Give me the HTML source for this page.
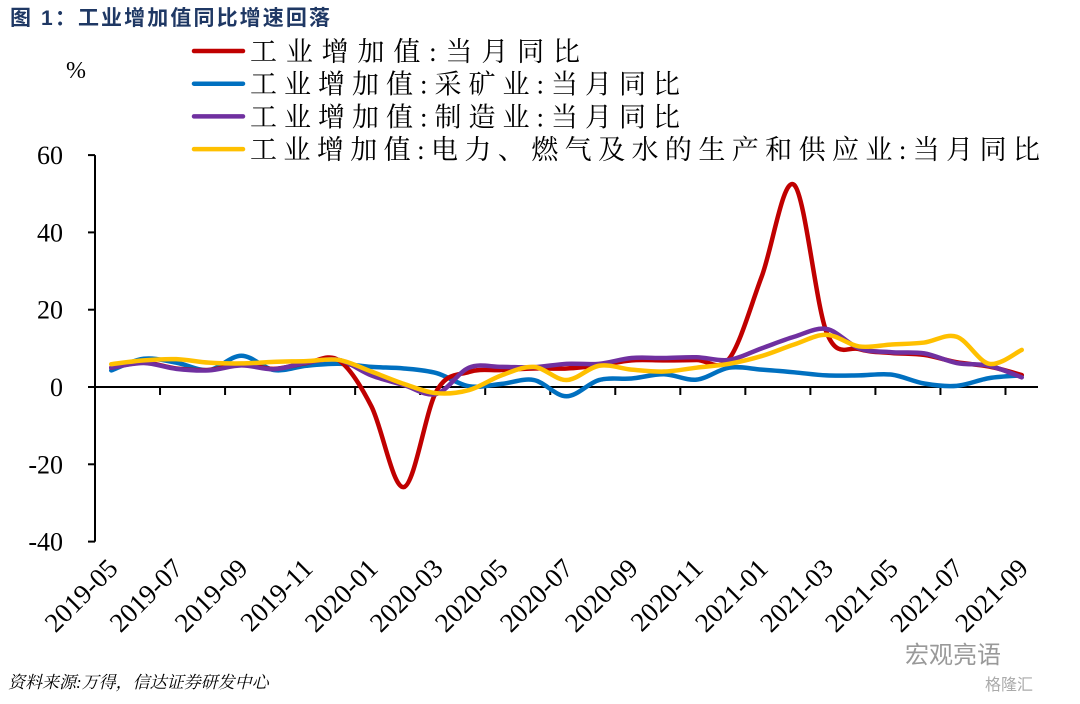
<!DOCTYPE html>
<html><head><meta charset="utf-8"><style>
body{margin:0;background:#fff;width:1080px;height:699px;overflow:hidden}
</style></head><body>
<svg id="chart" width="1080" height="699" viewBox="0 0 1080 699" xmlns="http://www.w3.org/2000/svg" font-family="'Liberation Serif','Noto Serif CJK SC',serif">
<text x="10" y="25" font-size="21" font-weight="bold" fill="#1f3864" textLength="320" lengthAdjust="spacing" font-family="'Liberation Sans','Noto Sans CJK SC',sans-serif">图 1：工业增加值同比增速回落</text>
<text x="66" y="78" font-size="24">%</text>
<g id="legend"></g>
<g id="axes"></g>
<g id="series"></g>
<text x="8" y="688" font-size="17" font-style="italic">资料来源:万得，信达证券研发中心</text>
<text x="905" y="663" font-size="24" fill="#999" font-family="'Liberation Sans','Noto Sans CJK SC',sans-serif">宏观亮语</text>
<text x="985" y="690" font-size="16" fill="#aaa" font-family="'Liberation Sans','Noto Sans CJK SC',sans-serif">格隆汇</text>
</svg>
<script>
const months=["2019-05","2019-06","2019-07","2019-08","2019-09","2019-10","2019-11","2019-12","2020-01","2020-02","2020-03","2020-04","2020-05","2020-06","2020-07","2020-08","2020-09","2020-10","2020-11","2020-12","2021-01","2021-02","2021-03","2021-04","2021-05","2021-06","2021-07","2021-08","2021-09"];
const yTicks=[60,40,20,0,-20,-40];
const totalVals=[5.0,6.3,4.8,4.4,5.8,4.7,6.2,6.9,-5.0,-25.9,-1.1,3.9,4.4,4.8,4.8,5.6,6.9,6.9,7.0,7.3,28.5,52.3,14.1,9.8,8.8,8.3,6.4,5.3,3.1];
const miningVals=[4.3,7.3,6.3,4.4,8.1,4.4,5.5,6.0,5.2,4.8,3.6,0.2,0.8,1.8,-2.4,1.8,2.2,3.3,1.9,5.0,4.5,3.8,3.0,3.0,3.2,0.9,0.3,2.3,3.0];
const mfgVals=[5.0,6.2,4.7,4.3,5.6,4.6,6.3,7.0,3.0,0.5,-1.8,5.0,5.2,5.1,6.0,6.0,7.5,7.5,7.7,7.0,10.0,13.0,15.0,10.0,9.0,8.7,6.2,5.5,2.5];
const utilVals=[5.9,6.9,7.2,6.3,6.1,6.5,6.7,7.0,4.0,0.8,-1.6,-0.8,3.0,5.2,1.8,5.5,4.5,4.0,5.0,6.0,8.0,11.0,13.5,10.5,11.0,11.5,13.0,6.0,9.6];
const seriesNames=["工业增加值:当月同比","工业增加值:采矿业:当月同比","工业增加值:制造业:当月同比","工业增加值:电力、燃气及水的生产和供应业:当月同比"];
const seriesColors=["#c00000","#0070c0","#7030a0","#ffc000"];
const seriesData=[totalVals,miningVals,mfgVals,utilVals];

const NS="http://www.w3.org/2000/svg";
const X0=95,X1=1038,Y0=387,PX20=77.3;
const cw=(X1-X0)/months.length;
const xs=i=>X0+cw*(i+0.5);
const ys=v=>Y0-v*PX20/20;
function mk(tag,attrs,parent){const e=document.createElementNS(NS,tag);for(const k in attrs)e.setAttribute(k,attrs[k]);parent.appendChild(e);return e;}
const axes=document.getElementById('axes');
const yl=mk('line',{x1:X0,x2:X0,y1:ys(60),y2:ys(-40),stroke:'#000','stroke-width':2},axes);


yTicks.forEach(t=>{
 const l=mk('line',{x1:X0-7,x2:X0,y1:ys(t),y2:ys(t),stroke:'#000','stroke-width':2},axes);
 
 
 const tx=mk('text',{x:X0-32,y:ys(t)+9,'font-size':26,'text-anchor':'end'},axes);
 tx.textContent=t;
 
 
});
const xl=mk('line',{x1:X0,x2:X1,y1:Y0,y2:Y0,stroke:'#000','stroke-width':2},axes);


months.forEach((m,i)=>{
 if(i%2===0&&i>0){
  const l=mk('line',{x1:X0+cw*i,x2:X0+cw*i,y1:Y0,y2:Y0+8,stroke:'#000','stroke-width':2},axes);
  
  
 }
 if(i%2===0){
  const x=xs(i)+8,y=570;
  const tx=mk('text',{x:x,y:y,'font-size':27,'text-anchor':'end',transform:`rotate(-45 ${x} ${y})`},axes);
  tx.textContent=m;
  
  
 }
});
function smooth(vals){
 const p=vals.map((v,i)=>[xs(i),ys(v)]);
 let d=`M${p[0][0]},${p[0][1]}`;
 for(let i=0;i<p.length-1;i++){
  const a=p[i-1]||p[i],b=p[i],c=p[i+1],e=p[i+2]||c,t=1/6;
  d+=` C${b[0]+(c[0]-a[0])*t},${b[1]+(c[1]-a[1])*t} ${c[0]-(e[0]-b[0])*t},${c[1]-(e[1]-b[1])*t} ${c[0]},${c[1]}`;
 }
 return d;
}
const sg=document.getElementById('series');
const order=[1,0,2,3];
order.forEach(k=>{
 const p=mk('path',{d:smooth(seriesData[k]),fill:'none',stroke:seriesColors[k],'stroke-width':4.5,'stroke-linejoin':'round','stroke-linecap':'round'},sg);
 
 
});
const lg=document.getElementById('legend');
const widths=[330,430,430,790];
seriesNames.forEach((n,k)=>{
 const y=51+k*32.7;
 const l=mk('line',{x1:194,x2:243,y1:y,y2:y,stroke:seriesColors[k],'stroke-width':4.5,'stroke-linecap':'round'},lg);
 
 
 const t=mk('text',{x:250,y:y+10,'font-size':27,textLength:widths[k],lengthAdjust:'spacing'},lg);
 t.textContent=n;
 
 
});
</script>
</body></html>
